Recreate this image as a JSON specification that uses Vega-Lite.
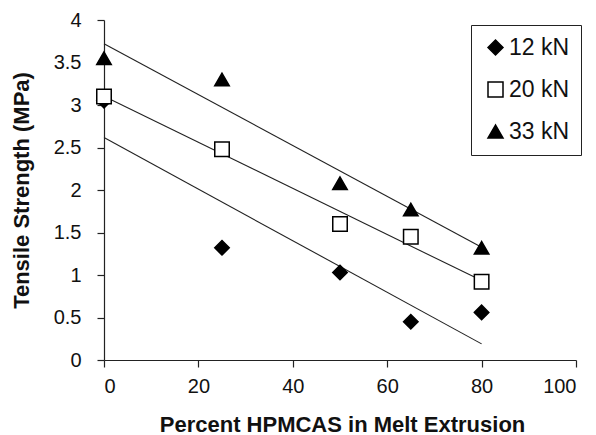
{
  "$schema": "https://vega.github.io/schema/vega-lite/v6.json",
  "width": 472,
  "height": 340,
  "autosize": {"type": "none"},
  "padding": {"left": 104, "top": 20, "right": 20, "bottom": 75},
  "background": "white",
  "config": {
    "view": {"stroke": null},
    "font": "Liberation Sans",
    "axis": {
      "grid": false,
      "domainColor": "#222",
      "domainWidth": 1.2,
      "tickColor": "#222",
      "tickWidth": 1.2,
      "tickSize": 7,
      "labelColor": "#111",
      "labelFont": "Liberation Sans",
      "labelFontSize": 20,
      "titleColor": "#111",
      "titleFont": "Liberation Sans",
      "titleFontSize": 22,
      "titleFontWeight": "bold"
    },
    "legend": {
      "title": null,
      "orient": "none",
      "legendX": 367,
      "legendY": 5,
      "strokeColor": "#222",
      "fillColor": "white",
      "padding": 11,
      "symbolOffset": 2,
      "symbolSize": 225,
      "labelFont": "Liberation Sans",
      "labelFontSize": 23,
      "labelColor": "#111",
      "labelOffset": 2,
      "rowPadding": 18
    }
  },
  "data": {
    "values": [
      {"pct": 0, "ts": 3.05, "load": "12 kN"},
      {"pct": 25, "ts": 1.32, "load": "12 kN"},
      {"pct": 50, "ts": 1.03, "load": "12 kN"},
      {"pct": 65, "ts": 0.45, "load": "12 kN"},
      {"pct": 80, "ts": 0.56, "load": "12 kN"},
      {"pct": 0, "ts": 3.1, "load": "20 kN"},
      {"pct": 25, "ts": 2.48, "load": "20 kN"},
      {"pct": 50, "ts": 1.6, "load": "20 kN"},
      {"pct": 65, "ts": 1.45, "load": "20 kN"},
      {"pct": 80, "ts": 0.92, "load": "20 kN"},
      {"pct": 0, "ts": 3.55, "load": "33 kN"},
      {"pct": 25, "ts": 3.3, "load": "33 kN"},
      {"pct": 50, "ts": 2.08, "load": "33 kN"},
      {"pct": 65, "ts": 1.77, "load": "33 kN"},
      {"pct": 80, "ts": 1.32, "load": "33 kN"}
    ]
  },
  "layer": [
    {
      "transform": [
        {"regression": "ts", "on": "pct", "groupby": ["load"]}
      ],
      "mark": {"type": "line", "color": "#222", "strokeWidth": 1.1},
      "encoding": {
        "x": {"field": "pct", "type": "quantitative"},
        "y": {"field": "ts", "type": "quantitative"},
        "detail": {"field": "load"}
      }
    },
    {
      "mark": {"type": "point", "filled": true, "stroke": "#000", "strokeWidth": 1.5, "size": 210, "opacity": 1},
      "encoding": {
        "x": {
          "field": "pct",
          "type": "quantitative",
          "scale": {"domain": [0, 100], "nice": false},
          "axis": {
            "values": [0, 20, 40, 60, 80, 100],
            "labelPadding": 9,
            "title": "Percent  HPMCAS in Melt Extrusion",
            "titleX": 238,
            "titleY": 71,
            "titleBaseline": "alphabetic",
            "titleAlign": "center"
          }
        },
        "y": {
          "field": "ts",
          "type": "quantitative",
          "scale": {"domain": [0, 4], "nice": false},
          "axis": {
            "values": [0, 0.5, 1, 1.5, 2, 2.5, 3, 3.5, 4],
            "format": "~g",
            "labelPadding": 16,
            "title": "Tensile Strength (MPa)",
            "titleAngle": 270,
            "titleX": -76,
            "titleY": 170,
            "titleBaseline": "alphabetic",
            "titleAlign": "center"
          }
        },
        "shape": {
          "field": "load",
          "type": "nominal",
          "scale": {"domain": ["12 kN", "20 kN", "33 kN"], "range": ["diamond", "square", "triangle-up"]},
          "legend": {
            "encode": {
              "symbols": {
                "update": {
                  "stroke": {"value": "#000"},
                  "strokeWidth": {"value": 1.5}
                }
              }
            }
          }
        },
        "fill": {
          "field": "load",
          "type": "nominal",
          "scale": {"domain": ["12 kN", "20 kN", "33 kN"], "range": ["#000", "#fff", "#000"]},
          "legend": {
            "encode": {
              "symbols": {
                "update": {
                  "stroke": {"value": "#000"},
                  "strokeWidth": {"value": 1.5}
                }
              }
            }
          }
        }
      }
    }
  ]
}
